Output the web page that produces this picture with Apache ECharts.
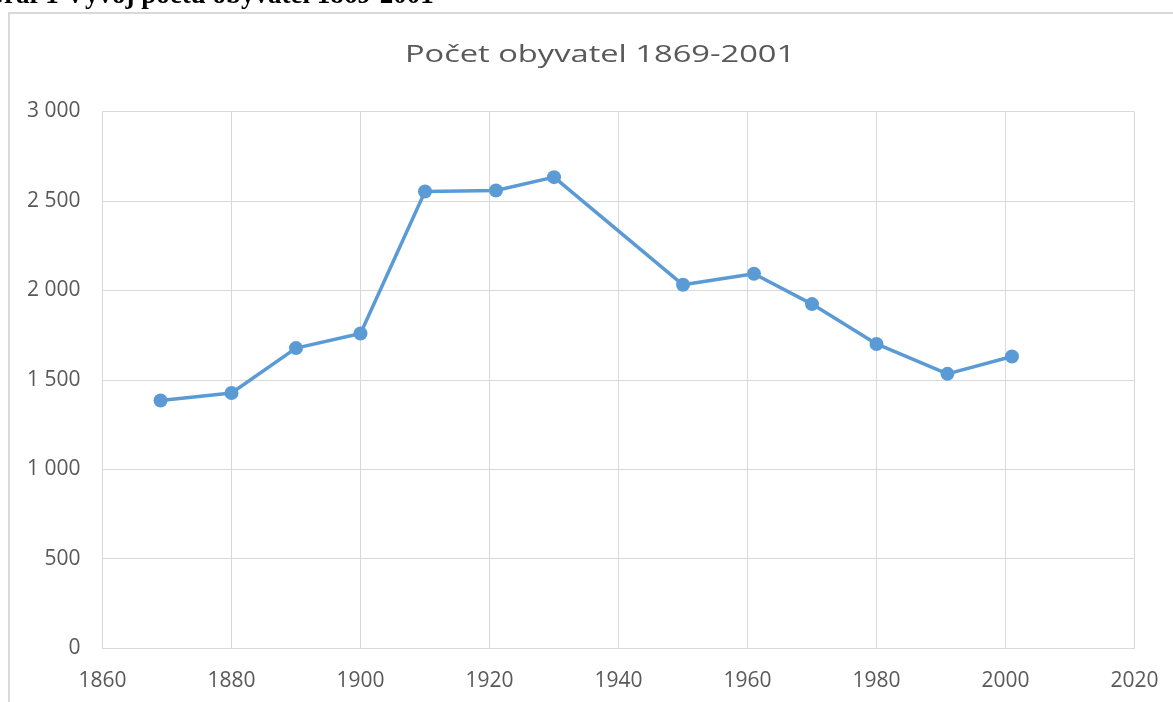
<!DOCTYPE html>
<html>
<head>
<meta charset="utf-8">
<script src="https://cdn.jsdelivr.net/npm/echarts@6/dist/echarts.min.js"></script>
<style>
  html, body { margin: 0; padding: 0; background: #fff; }
  #chart { width: 1173px; height: 702px; }
</style>
</head>
<body>
<div id="chart"></div>
<script>
// data
var years = [1869, 1880, 1890, 1900, 1910, 1921, 1930, 1950, 1961, 1970, 1980, 1991, 2001];
var population = [1384, 1426, 1677, 1759, 2553, 2558, 2633, 2031, 2093, 1923, 1700, 1533, 1630];
var chartTitle = 'Počet obyvatel 1869-2001';
var caption = 'Graf 1 Vývoj počtu obyvatel 1869-2001';

var chart = echarts.init(document.getElementById('chart'));

var points = years.map(function (y, i) { return [y, population[i]]; });

var option = {
  animation: false,
  // popisek nad grafem (oříznutý), nadpis a rámeček grafu
  graphic: [
    {
      type: 'text',
      left: -17,
      top: -17,
      style: {
        text: caption,
        font: 'bold 27px "Liberation Serif"',
        fill: '#000'
      }
    },
    {
      // nadpis je v originále roztažený do šířky
      type: 'text',
      x: 600,
      y: 55,
      scaleX: 1.36,
      style: {
        text: chartTitle,
        font: '24px "Open Sans"',
        fill: '#595959',
        align: 'center',
        verticalAlign: 'middle'
      }
    },
    {
      type: 'rect',
      shape: { x: 9, y: 13, width: 1200, height: 760 },
      style: { fill: 'none', stroke: '#d9d9d9', lineWidth: 2 }
    }
  ],
  grid: {
    left: 102.5,
    right: 38.5,
    top: 111.5,
    bottom: 54
  },
  xAxis: {
    type: 'value',
    min: 1860,
    max: 2020,
    interval: 20,
    axisLine: { show: true, lineStyle: { color: '#d9d9d9', width: 1 } },
    axisTick: { show: false },
    splitLine: { show: true, lineStyle: { color: '#d9d9d9', width: 1 } },
    axisLabel: {
      margin: 23,
      fontFamily: 'Open Sans',
      fontSize: 21,
      color: '#595959',
      formatter: function (v) { return String(v); }
    }
  },
  yAxis: {
    type: 'value',
    min: 0,
    max: 3000,
    interval: 500,
    axisLine: { show: false },
    axisTick: { show: false },
    splitLine: { show: true, lineStyle: { color: '#d9d9d9', width: 1 } },
    axisLabel: {
      margin: 22,
      fontFamily: 'Open Sans',
      fontSize: 21,
      color: '#595959',
      formatter: function (v) {
        return String(v).replace(/\B(?=(\d{3})+(?!\d))/g, ' ');
      }
    }
  },
  series: [{
    type: 'line',
    data: points,
    symbol: 'circle',
    symbolSize: 14,
    lineStyle: { color: '#5b9bd5', width: 3.5 },
    itemStyle: { color: '#5b9bd5' }
  }]
};

chart.setOption(option);
</script>
</body>
</html>
